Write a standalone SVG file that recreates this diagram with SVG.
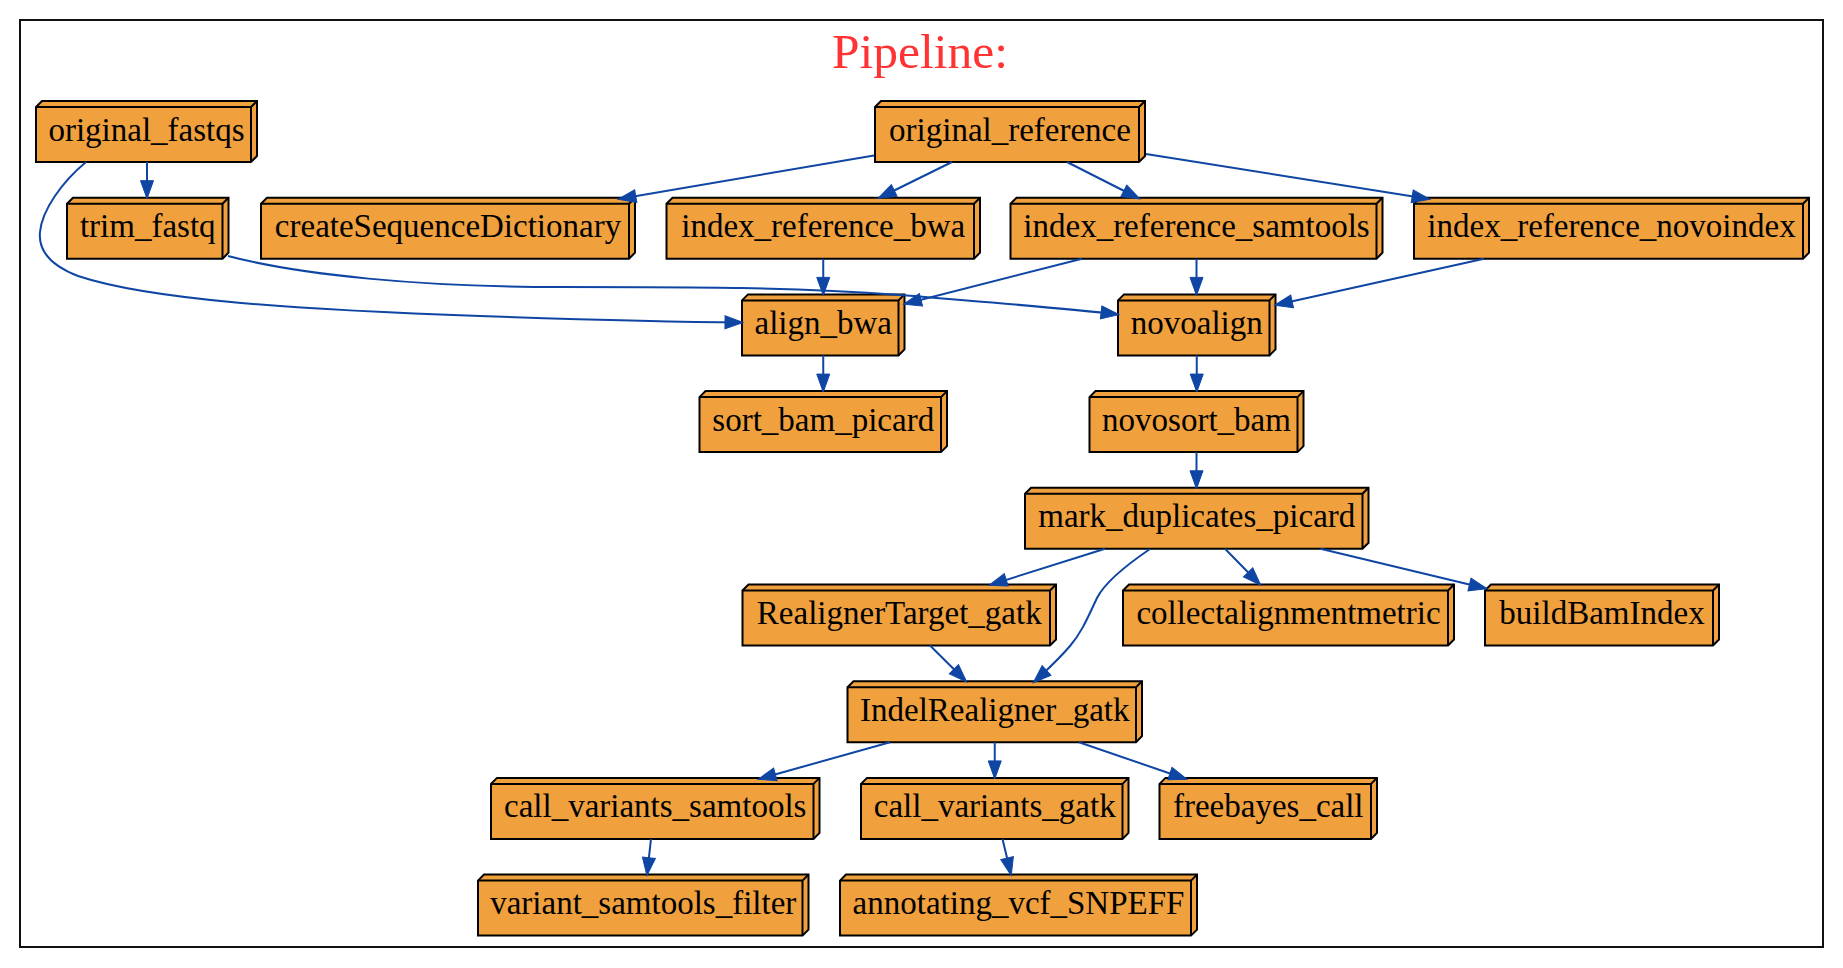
<svg xmlns="http://www.w3.org/2000/svg" width="1843" height="968" viewBox="0 0 1843 968">
<style>
.n polygon{fill:#f0a03c;stroke:#000;stroke-width:2;stroke-linejoin:miter}
.n path{fill:none;stroke:#000;stroke-width:2}
.n text{font-family:"Liberation Serif","Times New Roman",serif;font-size:33px;fill:#000;text-anchor:middle}
.e path{fill:none;stroke:#0f46a4;stroke-width:2;marker-end:url(#arr)}
</style>
<defs>
<marker id="arr" markerUnits="userSpaceOnUse" markerWidth="18" markerHeight="13" viewBox="0 0 18 13" refX="17" refY="6.5" orient="auto" overflow="visible">
<polygon points="0,0 18,6.5 0,13" fill="#0f46a4" stroke="#0f46a4" stroke-width="1"/>
</marker>
</defs>
<rect x="0" y="0" width="1843" height="968" fill="#fff"/>
<g id="cluster">
<rect x="20" y="20" width="1803" height="927" fill="none" stroke="#111" stroke-width="2"/>
<text x="920" y="68" style="font-family:'Liberation Serif','Times New Roman',serif;font-size:49.5px;fill:#ff3333;text-anchor:middle">Pipeline:</text>
</g>
<g id="nodes">
<g class="n" id="original_fastqs"><polygon points="36,107 42,101 257,101 257,156 251,162 36,162"/><path d="M36,107H251V162M251,107L257,101"/><text x="146.5" y="140.5">original_fastqs</text></g>
<g class="n" id="original_reference"><polygon points="875,107 881,101 1145,101 1145,156 1139,162 875,162"/><path d="M875,107H1139V162M1139,107L1145,101"/><text x="1010" y="140.5">original_reference</text></g>
<g class="n" id="trim_fastq"><polygon points="67,203.7 73,197.7 228.5,197.7 228.5,252.7 222.5,258.7 67,258.7"/><path d="M67,203.7H222.5V258.7M222.5,203.7L228.5,197.7"/><text x="147.75" y="237.2">trim_fastq</text></g>
<g class="n" id="createSequenceDictionary"><polygon points="261,203.7 267,197.7 635,197.7 635,252.7 629,258.7 261,258.7"/><path d="M261,203.7H629V258.7M629,203.7L635,197.7"/><text x="448" y="237.2">createSequenceDictionary</text></g>
<g class="n" id="index_reference_bwa"><polygon points="666.5,203.7 672.5,197.7 980,197.7 980,252.7 974,258.7 666.5,258.7"/><path d="M666.5,203.7H974V258.7M974,203.7L980,197.7"/><text x="823.25" y="237.2">index_reference_bwa</text></g>
<g class="n" id="index_reference_samtools"><polygon points="1010.5,203.7 1016.5,197.7 1382.5,197.7 1382.5,252.7 1376.5,258.7 1010.5,258.7"/><path d="M1010.5,203.7H1376.5V258.7M1376.5,203.7L1382.5,197.7"/><text x="1196.5" y="237.2">index_reference_samtools</text></g>
<g class="n" id="index_reference_novoindex"><polygon points="1414,203.7 1420,197.7 1809,197.7 1809,252.7 1803,258.7 1414,258.7"/><path d="M1414,203.7H1803V258.7M1803,203.7L1809,197.7"/><text x="1611.5" y="237.2">index_reference_novoindex</text></g>
<g class="n" id="align_bwa"><polygon points="742,300.4 748,294.4 904.5,294.4 904.5,349.4 898.5,355.4 742,355.4"/><path d="M742,300.4H898.5V355.4M898.5,300.4L904.5,294.4"/><text x="823.25" y="333.9">align_bwa</text></g>
<g class="n" id="novoalign"><polygon points="1118,300.4 1124,294.4 1275.5,294.4 1275.5,349.4 1269.5,355.4 1118,355.4"/><path d="M1118,300.4H1269.5V355.4M1269.5,300.4L1275.5,294.4"/><text x="1196.75" y="333.9">novoalign</text></g>
<g class="n" id="sort_bam_picard"><polygon points="699.5,397.1 705.5,391.1 947,391.1 947,446.1 941,452.1 699.5,452.1"/><path d="M699.5,397.1H941V452.1M941,397.1L947,391.1"/><text x="823.25" y="430.6">sort_bam_picard</text></g>
<g class="n" id="novosort_bam"><polygon points="1089.5,397.1 1095.5,391.1 1303.5,391.1 1303.5,446.1 1297.5,452.1 1089.5,452.1"/><path d="M1089.5,397.1H1297.5V452.1M1297.5,397.1L1303.5,391.1"/><text x="1196.5" y="430.6">novosort_bam</text></g>
<g class="n" id="mark_duplicates_picard"><polygon points="1025,493.8 1031,487.8 1368.5,487.8 1368.5,542.8 1362.5,548.8 1025,548.8"/><path d="M1025,493.8H1362.5V548.8M1362.5,493.8L1368.5,487.8"/><text x="1196.75" y="527.3">mark_duplicates_picard</text></g>
<g class="n" id="RealignerTarget_gatk"><polygon points="742.5,590.5 748.5,584.5 1056,584.5 1056,639.5 1050,645.5 742.5,645.5"/><path d="M742.5,590.5H1050V645.5M1050,590.5L1056,584.5"/><text x="899.25" y="624">RealignerTarget_gatk</text></g>
<g class="n" id="collectalignmentmetric"><polygon points="1123,590.5 1129,584.5 1454,584.5 1454,639.5 1448,645.5 1123,645.5"/><path d="M1123,590.5H1448V645.5M1448,590.5L1454,584.5"/><text x="1288.5" y="624">collectalignmentmetric</text></g>
<g class="n" id="buildBamIndex"><polygon points="1485,590.5 1491,584.5 1719,584.5 1719,639.5 1713,645.5 1485,645.5"/><path d="M1485,590.5H1713V645.5M1713,590.5L1719,584.5"/><text x="1602" y="624">buildBamIndex</text></g>
<g class="n" id="IndelRealigner_gatk"><polygon points="847.5,687.2 853.5,681.2 1142,681.2 1142,736.2 1136,742.2 847.5,742.2"/><path d="M847.5,687.2H1136V742.2M1136,687.2L1142,681.2"/><text x="994.75" y="720.7">IndelRealigner_gatk</text></g>
<g class="n" id="call_variants_samtools"><polygon points="491,783.9 497,777.9 819.5,777.9 819.5,832.9 813.5,838.9 491,838.9"/><path d="M491,783.9H813.5V838.9M813.5,783.9L819.5,777.9"/><text x="655.25" y="817.4">call_variants_samtools</text></g>
<g class="n" id="call_variants_gatk"><polygon points="861,783.9 867,777.9 1128.5,777.9 1128.5,832.9 1122.5,838.9 861,838.9"/><path d="M861,783.9H1122.5V838.9M1122.5,783.9L1128.5,777.9"/><text x="994.75" y="817.4">call_variants_gatk</text></g>
<g class="n" id="freebayes_call"><polygon points="1159.5,783.9 1165.5,777.9 1377,777.9 1377,832.9 1371,838.9 1159.5,838.9"/><path d="M1159.5,783.9H1371V838.9M1371,783.9L1377,777.9"/><text x="1268.25" y="817.4">freebayes_call</text></g>
<g class="n" id="variant_samtools_filter"><polygon points="478,880.6 484,874.6 808.5,874.6 808.5,929.6 802.5,935.6 478,935.6"/><path d="M478,880.6H802.5V935.6M802.5,880.6L808.5,874.6"/><text x="643.25" y="914.1">variant_samtools_filter</text></g>
<g class="n" id="annotating_vcf_SNPEFF"><polygon points="840,880.6 846,874.6 1197,874.6 1197,929.6 1191,935.6 840,935.6"/><path d="M840,880.6H1191V935.6M1191,880.6L1197,874.6"/><text x="1018.5" y="914.1">annotating_vcf_SNPEFF</text></g>
</g>
<g id="edges" class="e">
<path d="M147,162L147,197.7"/>
<path d="M86,162C62,182 42,210 40,232C38,252 52,266 78,276C150,300 300,310 480,316C600,320 690,322 742,322.5"/>
<path d="M874,155.5L619,199"/>
<path d="M952,162L879,198"/>
<path d="M1067,162L1139,198.5"/>
<path d="M1146,154L1429,199"/>
<path d="M823.25,258.7L823.25,294.4"/>
<path d="M1082,258.7L904.5,304"/>
<path d="M1196.5,258.7L1196.5,294.4"/>
<path d="M1484,258.7L1275.5,305"/>
<path d="M228,256C300,275 420,287 560,287C700,287 790,287 900,295C1000,303 1080,310 1118,314.5"/>
<path d="M823.25,355.4L823.25,391.1"/>
<path d="M1196.75,355.4L1196.75,391.1"/>
<path d="M1196.5,452.1L1196.5,487.8"/>
<path d="M1105,548.8L990,585"/>
<path d="M1150,549C1125,566 1105,582 1097,598C1088,617 1082,632 1070,646C1058,660 1046,671 1034,682"/>
<path d="M1225,548.8L1260,584.5"/>
<path d="M1320.5,548.8L1486,588.5"/>
<path d="M930,645.5L966,681.2"/>
<path d="M890,742.2L759,779"/>
<path d="M994.75,742.2L994.75,777.9"/>
<path d="M1079,742.2L1186,779"/>
<path d="M651,838.9L647,874.6"/>
<path d="M1002.5,838.9L1011,874.6"/>
</g>
</svg>
